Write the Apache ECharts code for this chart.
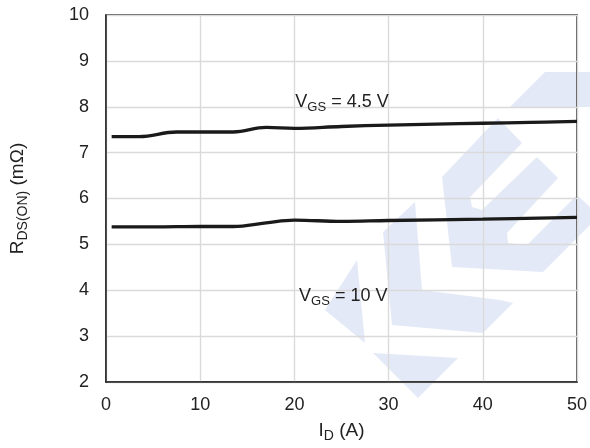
<!DOCTYPE html>
<html>
<head>
<meta charset="utf-8">
<script src="https://cdn.jsdelivr.net/npm/echarts@6/dist/echarts.min.js"></script>
<style>html,body{margin:0;padding:0;background:#fff}#c{width:590px;height:448px}</style>
</head>
<body>
<div id="c"></div>
<script>
// Data
var xTicks = [0, 10, 20, 30, 40, 50];
var yTicks = [2, 3, 4, 5, 6, 7, 8, 9, 10];
var idHigh = [0.6, 3.5, 7.5, 13.5, 17, 20, 25, 30, 35, 40, 45, 50];
var rdsVgs45 = [7.35, 7.35, 7.45, 7.45, 7.55, 7.53, 7.57, 7.60, 7.62, 7.64, 7.66, 7.68];
var idLow = [0.6, 5, 10, 13.5, 17, 20, 25, 30, 40, 50];
var rdsVgs10 = [5.38, 5.38, 5.39, 5.39, 5.47, 5.53, 5.50, 5.52, 5.55, 5.59];
var label45 = {x: 20.1, y: 8.1, text: '{v|V}{sub|GS}{v| = 4.5 V}'};
var label10 = {x: 20.5, y: 3.87, text: '{v|V}{sub|GS}{v| = 10 V}'};

function pairs(xs, ys){ return xs.map(function(x,i){ return [x, ys[i]]; }); }

var font = 'Liberation Sans, Arial, sans-serif';
var txtColor = '#222';
var richStyle = {
  v: {fontSize: 18, color: txtColor, fontFamily: font},
  sub: {fontSize: 13, color: txtColor, fontFamily: font, padding: [10, 0, 0, 0]}
};
var richName = {
  v: {fontSize: 19, color: txtColor, fontFamily: font},
  sub: {fontSize: 14, color: txtColor, fontFamily: font, padding: [10, 0, 0, 0]}
};
var wm = '#e3e9f6';
function poly(pts){ return {type:'polygon', z:-100, silent:true, shape:{points:pts}, style:{fill:wm}}; }

var chart = echarts.init(document.getElementById('c'), null, {renderer:'canvas'});
chart.setOption({
  animation: false,
  backgroundColor: '#fff',
  graphic: {elements: [
    poly([[545,72],[590,72],[590,107],[510,107]]),
    poly([[498,118],[522,143],[470,197],[472,207],[482,210],[537,157],[558,178],[507,233],[508,243],[527,245],[577,195],[590,207],[590,225],[543,272],[452,267],[442,177]]),
    poly([[415,202],[383,232],[392,325],[483,333],[513,303],[500,300],[422,290]]),
    poly([[357,260],[365,343],[325,310]]),
    poly([[373,353],[458,358],[418,398]])
  ]},
  grid: {left: 106, right: 13, top: 15, bottom: 64, show: true, borderColor: '#222', borderWidth: 1.5, z: 50},
  xAxis: {
    type: 'value', min: xTicks[0], max: xTicks[xTicks.length-1], interval: 10, z: 50,
    axisLine: {show: true, lineStyle: {color: '#222', width: 1.5}},
    axisTick: {show: false},
    splitLine: {show: true, lineStyle: {color: '#dadada', width: 1.4}},
    axisLabel: {fontSize: 18, color: txtColor, fontFamily: font, margin: 14},
    name: '{v|I}{sub|D}{v| (A)}', nameLocation: 'middle', nameGap: 37,
    nameTextStyle: {fontSize: 19, color: txtColor, fontFamily: font, rich: richName}
  },
  yAxis: {
    type: 'value', min: yTicks[0], max: yTicks[yTicks.length-1], interval: 1, z: 50,
    axisLine: {show: true, lineStyle: {color: '#222', width: 1.5}},
    axisTick: {show: false},
    splitLine: {show: true, lineStyle: {color: '#dadada', width: 1.4}},
    axisLabel: {fontSize: 18, color: txtColor, fontFamily: font, margin: 17},
    name: '{v|R}{sub|DS(ON)}{v| (mΩ)}', nameLocation: 'middle', nameGap: 76, nameRotate: 90,
    nameTextStyle: {fontSize: 19, color: txtColor, fontFamily: font, rich: richName}
  },
  series: [
    {type: 'line', data: pairs(idHigh, rdsVgs45), smooth: 0.4, showSymbol: false,
     lineStyle: {color: '#1a1a1a', width: 3.3}, z: 60,
     markPoint: {z: 70, symbol: 'circle', symbolSize: 0, data: [{coord: [label45.x, label45.y]}],
       label: {show: true, position: 'right', distance: 0, formatter: label45.text, rich: richStyle}}},
    {type: 'line', data: pairs(idLow, rdsVgs10), smooth: 0.4, showSymbol: false,
     lineStyle: {color: '#1a1a1a', width: 3.3}, z: 60,
     markPoint: {z: 70, symbol: 'circle', symbolSize: 0, data: [{coord: [label10.x, label10.y]}],
       label: {show: true, position: 'right', distance: 0, formatter: label10.text, rich: richStyle}}}
  ]
});
</script>
</body>
</html>
